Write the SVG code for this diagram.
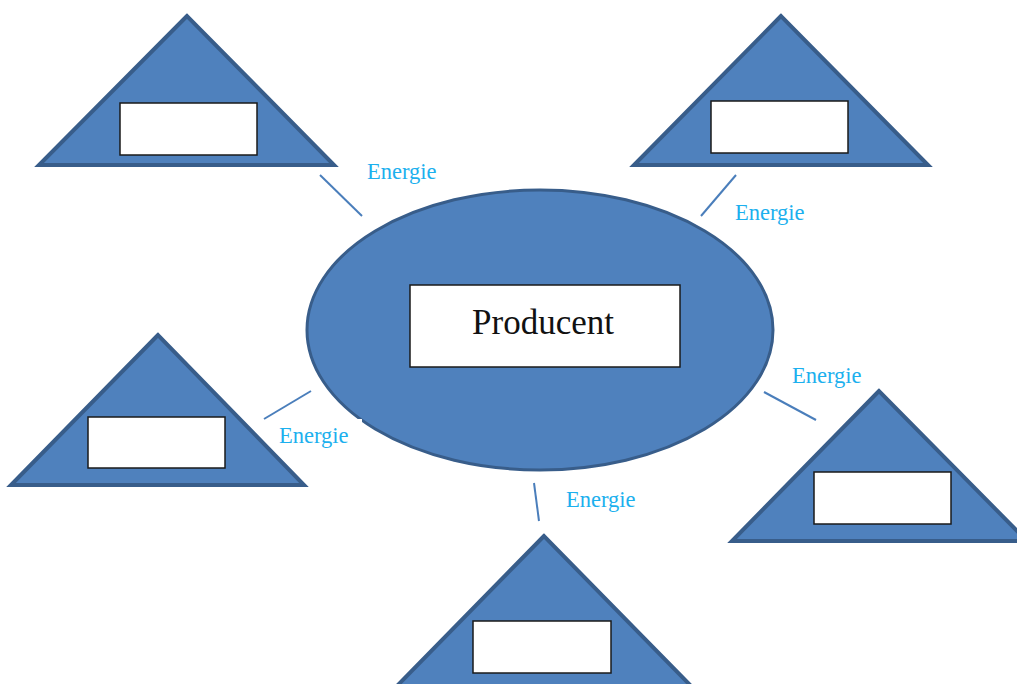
<svg xmlns="http://www.w3.org/2000/svg" width="1017" height="684" viewBox="0 0 1017 684">
<style>
.tri{fill:#4f81bd;stroke:#385d8a;stroke-width:4;stroke-linejoin:miter}
.box{fill:#ffffff;stroke:#1a1a1a;stroke-width:1.5}
.ell{fill:#4f81bd;stroke:#385d8a;stroke-width:3}
.con{stroke:#4a7ebb;stroke-width:2;fill:none}
.lbl{font-size:22.5px;fill:#1cb0ee}
.main{font-size:35px;fill:#111111;text-anchor:middle}
</style>
<rect width="1017" height="684" fill="#ffffff"/>
<g id="producent">
<ellipse class="ell" cx="540" cy="330" rx="233" ry="140"/>
<rect class="box" x="410" y="285" width="270" height="82"/>
<text class="main" x="543" y="334" font-family="Liberation Serif, DejaVu Serif, serif">Producent</text>
</g>
<g id="consumer-top-left">
<polygon class="tri" points="187,16 39,165 334,165"/>
<rect class="box" x="120" y="103" width="137" height="52"/>
</g>
<g id="consumer-top-right">
<polygon class="tri" points="781,16 634,165 928,165"/>
<rect class="box" x="711" y="101" width="137" height="52"/>
</g>
<g id="consumer-left">
<polygon class="tri" points="158,335 11,485 304,485"/>
<rect class="box" x="88" y="417" width="137" height="51"/>
</g>
<g id="consumer-right">
<polygon class="tri" points="879,391 732,541 1027,541"/>
<rect class="box" x="814" y="472" width="137" height="52"/>
</g>
<g id="consumer-bottom">
<polygon class="tri" points="544,536 395,688 693,688"/>
<rect class="box" x="473" y="621" width="138" height="52"/>
</g>
<g id="connectors">
<line class="con" x1="320" y1="175" x2="362" y2="216"/>
<line class="con" x1="736" y1="175" x2="701" y2="216"/>
<line class="con" x1="264" y1="419" x2="311" y2="391"/>
<line class="con" x1="764" y1="392" x2="816" y2="420"/>
<line class="con" x1="534" y1="483" x2="539" y2="521"/>
</g>
<g id="labels" font-family="Liberation Serif, DejaVu Serif, serif">
<text class="lbl" x="367" y="179">Energie</text>
<text class="lbl" x="735" y="220">Energie</text>
<rect x="300" y="419" width="62" height="30" fill="#ffffff"/>
<text class="lbl" x="279" y="443">Energie</text>
<text class="lbl" x="792" y="383">Energie</text>
<text class="lbl" x="566" y="507">Energie</text>
</g>
</svg>
